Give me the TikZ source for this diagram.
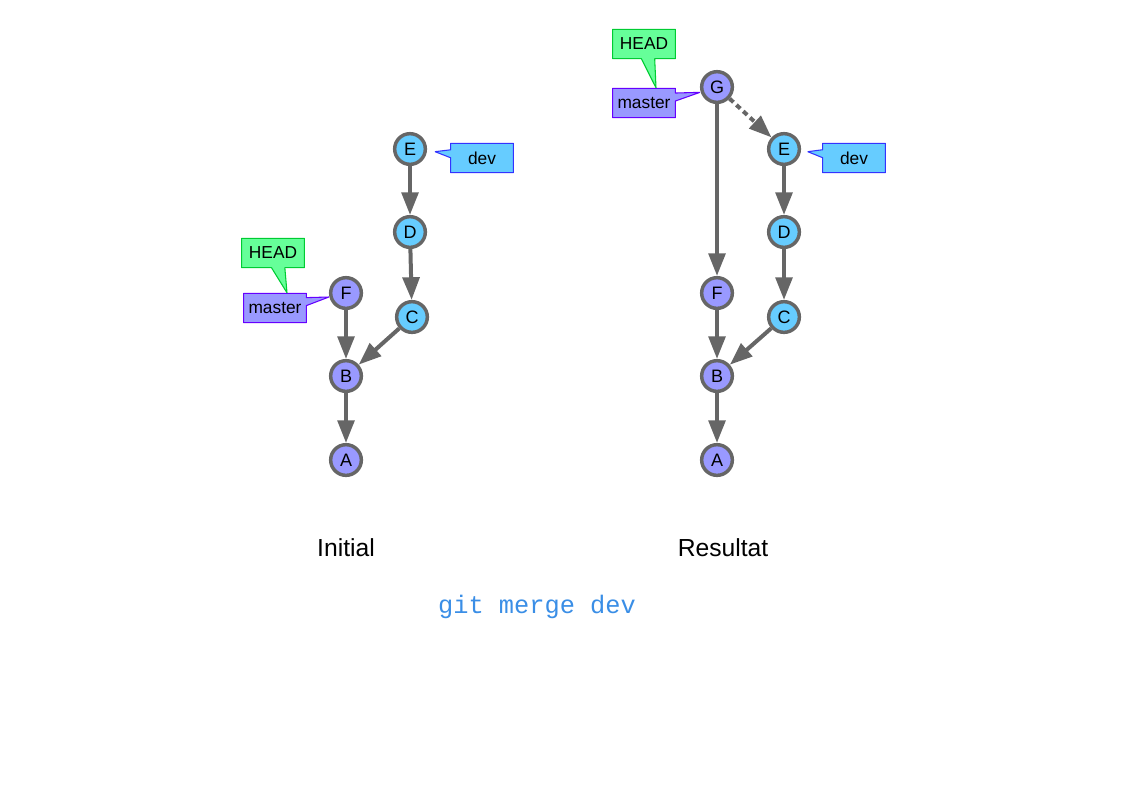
\documentclass[tikz,border=0pt]{standalone}
\usepackage{fontspec}
\setmainfont{Liberation Sans}
\newfontfamily\codefont{Liberation Mono}
\usetikzlibrary{arrows.meta,shapes.callouts}
\definecolor{edgegray}{HTML}{666666}
\definecolor{masterfill}{HTML}{9999FF}
\definecolor{devfill}{HTML}{66CCFF}
\definecolor{headfill}{HTML}{66FF99}
\definecolor{masterline}{HTML}{6600FF}
\definecolor{devline}{HTML}{3333FF}
\definecolor{headline}{HTML}{00CC33}
\definecolor{codeblue}{HTML}{3A8EE6}
\begin{document}
\begin{tikzpicture}[x=0.75pt,y=-0.75pt,>={Triangle[length=17pt,width=12.5pt]},line join=bevel,
  commit/.style={circle,draw=edgegray,line width=2.6pt,minimum size=23pt,inner sep=0pt,font=\fontsize{13.5}{15}\selectfont},
  onmaster/.style={commit,fill=masterfill},
  ondev/.style={commit,fill=devfill},
  tag/.style={rectangle callout,minimum width=47pt,minimum height=22pt,inner sep=0pt,line width=0.8pt,font=\fontsize{13}{15}\selectfont,callout pointer width=6pt},
  mastertag/.style={tag,draw=masterline,fill=masterfill},
  devtag/.style={tag,draw=devline,fill=devfill},
  headtag/.style={tag,draw=headline,fill=headfill,callout pointer width=10pt},
  link/.style={draw=edgegray,line width=3pt,->},
  caption/.style={font=\fontsize{18.5}{22}\selectfont}]
\useasboundingbox (0,0) rectangle (1123,794);
%%
\node (l_E) at (410,149) [ondev] {E};
  \node (l_D) at (410,232) [ondev] {D};
  \node (l_C) at (412,317) [ondev] {C};
  \node (l_F) at (346,293) [onmaster] {F};
  \node (l_B) at (346,376) [onmaster] {B};
  \node (l_A) at (346,460) [onmaster] {A};
  \node (l_dev) at (482,158) [devtag,callout absolute pointer={([xshift=6pt,yshift=-2pt]l_E.east)}] {dev};
  \node (l_master) at (275,308) [mastertag,callout absolute pointer={([yshift=-3pt]l_F.west)}] {master};
  \node (l_head) at (273,253) [headtag,callout absolute pointer={([xshift=9pt]l_master.north)}] {HEAD};
  \draw [link] (l_E) -- (l_D);
  \draw [link] (l_D) -- (l_C);
  \draw [link] (l_C) -- (l_B);
  \draw [link] (l_F) -- (l_B);
  \draw [link] (l_B) -- (l_A);
%
\node (r_G) at (717,87) [onmaster] {G};
  \node (r_E) at (784,149) [ondev] {E};
  \node (r_D) at (784,232) [ondev] {D};
  \node (r_C) at (784,317) [ondev] {C};
  \node (r_F) at (717,293) [onmaster] {F};
  \node (r_B) at (717,376) [onmaster] {B};
  \node (r_A) at (717,460) [onmaster] {A};
  \node (r_dev) at (854,158) [devtag,callout absolute pointer={([xshift=5pt,yshift=-2pt]r_E.east)}] {dev};
  \node (r_master) at (644,103) [mastertag,callout absolute pointer={([yshift=-4pt]r_G.west)}] {master};
  \node (r_head) at (644,44) [headtag,callout absolute pointer={([xshift=9pt]r_master.north)}] {HEAD};
  \draw [link] (r_G) -- (r_F);
  \draw [link,dash pattern=on 4pt off 3pt] (r_G) -- (r_E);
  \draw [link] (r_E) -- (r_D);
  \draw [link] (r_D) -- (r_C);
  \draw [link] (r_C) -- (r_B);
  \draw [link] (r_F) -- (r_B);
  \draw [link] (r_B) -- (r_A);
%
\node (cap_init) at (346,548) [caption] {Initial};
  \node (cap_res) at (723,548) [caption] {Resultat};
  \node (cmd) at (537,607) [text=codeblue,font=\codefont\fontsize{19}{22}\selectfont] {git merge dev};
%
\end{tikzpicture}
\end{document}
